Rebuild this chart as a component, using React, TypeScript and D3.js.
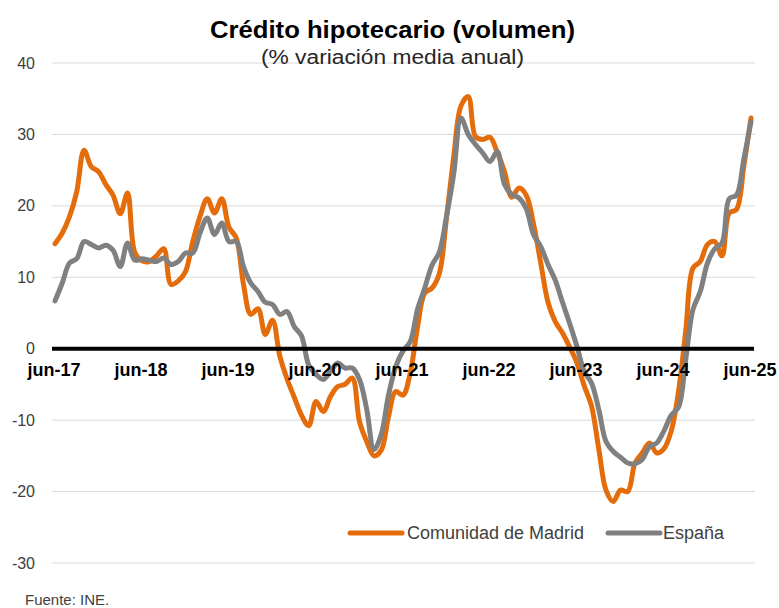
import React, { useRef, useEffect } from 'react';
import * as d3 from 'd3';

// monthly series, jun-17 .. jun-25 (97 points)
const madrid = [
  14.7, 16.2, 18.5, 22.0, 27.8, 25.5, 24.8, 23.0, 21.5, 18.9, 21.8, 13.5,
  12.3, 12.2, 13.0, 14.0, 9.0, 9.5, 10.8, 15.0, 18.5, 21.0, 19.0, 21.0,
  17.0, 15.5, 9.0, 4.8, 5.6, 2.0, 4.0, -1.0, -4.2, -6.8, -9.3, -10.8,
  -7.4, -8.8, -6.7, -5.3, -5.0, -4.1, -10.2, -13.0, -15.0, -14.2, -9.5, -6.0,
  -6.5, -3.4, 3.0, 7.8, 8.5, 10.5, 18.3, 26.9, 34.0, 35.3, 29.7, 29.3,
  29.6, 27.5, 24.8, 21.2, 22.5, 21.5, 17.5, 12.0, 6.5, 3.8, 2.2, 0.2,
  -2.0, -5.2, -8.0, -14.0, -19.8, -21.4, -19.8, -20.0, -16.0, -14.6, -13.2, -14.6,
  -14.0, -11.5, -6.0, 2.5, 11.3, 12.2, 14.6, 15.0, 13.0, 19.0, 19.5, 25.5,
  32.3,
];

const espana = [
  6.7, 9.2, 12.0, 12.6, 15.0, 14.6, 14.1, 14.5, 13.8, 11.5, 14.8, 12.4,
  12.6, 12.4, 12.2, 12.7, 11.8, 12.2, 13.4, 13.4, 16.2, 18.3, 16.0, 17.6,
  15.0, 15.0, 11.5, 9.2, 8.0, 6.5, 6.2, 4.8, 5.2, 3.1, 1.8, -2.3,
  -3.6, -4.3, -3.2, -2.0, -2.7, -2.7, -4.3, -8.5, -14.1, -12.0, -6.5, -2.5,
  -0.3, 1.0, 5.5, 8.5, 11.7, 13.5, 18.5, 24.5, 32.3, 30.0, 28.6, 27.4,
  26.2, 27.6, 23.0, 21.6, 21.1, 19.6, 16.0, 14.3, 11.8, 9.6, 6.5, 3.5,
  0.3, -3.2, -4.8, -8.5, -13.0, -14.4, -15.2, -16.0, -16.1, -15.5, -13.7, -13.2,
  -11.5, -9.3, -8.2, -1.5, 5.5, 8.0, 12.0, 14.0, 14.8, 21.0, 21.5, 26.5,
  31.8,
];

const xLabels = ['jun-17', 'jun-18', 'jun-19', 'jun-20', 'jun-21', 'jun-22', 'jun-23', 'jun-24', 'jun-25'];
const yTicks = [-30, -20, -10, 0, 10, 20, 30, 40];
const seriesNames = ['Comunidad de Madrid', 'España'];

const W = 779;
const H = 608;
const ORANGE = '#E46C0A';
const GREY = '#808080';

const App = () => {
  const svgRef = useRef(null);

  useEffect(() => {
    if (!svgRef.current) return;
    const svg = d3.select(svgRef.current);
    svg.selectAll('*').remove();

    const xScale = d3.scaleLinear().domain([0, madrid.length - 1]).range([55, 751]);
    const yScale = d3.scaleLinear().domain([-30, 40]).range([563, 63]);
    const gridLeft = 52;
    const gridRight = 755;

    // gridlines
    svg.append('g')
      .selectAll('line')
      .data(yTicks.filter(t => t !== 0))
      .enter()
      .append('line')
      .attr('x1', gridLeft)
      .attr('x2', gridRight)
      .attr('y1', d => yScale(d))
      .attr('y2', d => yScale(d))
      .attr('stroke', '#D9D9D9')
      .attr('stroke-width', 1);

    // y tick labels
    svg.append('g')
      .selectAll('text')
      .data(yTicks)
      .enter()
      .append('text')
      .attr('x', 35)
      .attr('y', d => yScale(d) + 5.5)
      .attr('text-anchor', 'end')
      .attr('font-family', 'Liberation Sans, Arial, sans-serif')
      .attr('font-size', 16)
      .attr('fill', '#404040')
      .text(d => d);

    // title
    svg.append('text')
      .attr('x', 392.5)
      .attr('y', 38)
      .attr('text-anchor', 'middle')
      .attr('font-family', 'Liberation Sans, Arial, sans-serif')
      .attr('font-size', 23)
      .attr('font-weight', 'bold')
      .attr('fill', '#000')
      .attr('textLength', 365)
      .attr('lengthAdjust', 'spacingAndGlyphs')
      .text('Crédito hipotecario (volumen)');

    svg.append('text')
      .attr('x', 392.5)
      .attr('y', 64)
      .attr('text-anchor', 'middle')
      .attr('font-family', 'Liberation Sans, Arial, sans-serif')
      .attr('font-size', 20)
      .attr('fill', '#262626')
      .attr('textLength', 263)
      .attr('lengthAdjust', 'spacingAndGlyphs')
      .text('(% variación media anual)');

    const line = d3.line<number>()
      .x((d, i) => xScale(i))
      .y(d => yScale(d))
      .curve(d3.curveCatmullRom.alpha(0.5));

    // series
    [[madrid, ORANGE], [espana, GREY]].forEach(([vals, color]) => {
      svg.append('path')
        .datum(vals as number[])
        .attr('fill', 'none')
        .attr('stroke', color as string)
        .attr('stroke-width', 5)
        .attr('stroke-linejoin', 'round')
        .attr('stroke-linecap', 'round')
        .attr('d', line);
    });

    // zero axis
    svg.append('line')
      .attr('x1', gridLeft)
      .attr('x2', 754)
      .attr('y1', yScale(0))
      .attr('y2', yScale(0))
      .attr('stroke', '#000')
      .attr('stroke-width', 4);

    // x labels
    svg.append('g')
      .selectAll('text')
      .data(xLabels)
      .enter()
      .append('text')
      .attr('x', (d, k) => xScale(k * 12) - 1)
      .attr('y', 376)
      .attr('text-anchor', 'middle')
      .attr('font-family', 'Liberation Sans, Arial, sans-serif')
      .attr('font-size', 18)
      .attr('font-weight', 'bold')
      .attr('fill', '#000')
      .text(d => d);

    // legend
    const legend = [
      { name: seriesNames[0], color: ORANGE, x: 350, tx: 407 },
      { name: seriesNames[1], color: GREY, x: 608, tx: 663 },
    ];
    const lg = svg.append('g');
    legend.forEach(l => {
      lg.append('line')
        .attr('x1', l.x)
        .attr('x2', l.x + 52)
        .attr('y1', 533)
        .attr('y2', 533)
        .attr('stroke', l.color)
        .attr('stroke-width', 5)
        .attr('stroke-linecap', 'round');
      lg.append('text')
        .attr('x', l.tx)
        .attr('y', 539)
        .attr('font-family', 'Liberation Sans, Arial, sans-serif')
        .attr('font-size', 18)
        .attr('fill', '#404040')
        .text(l.name);
    });

    // source
    svg.append('text')
      .attr('x', 25)
      .attr('y', 605)
      .attr('font-family', 'Liberation Sans, Arial, sans-serif')
      .attr('font-size', 15)
      .attr('fill', '#404040')
      .text('Fuente: INE.');
  }, []);

  return (
    <svg
      ref={svgRef}
      width={W}
      height={H}
      style={{ position: 'absolute', left: 0, top: 0, background: '#fff' }}
    />
  );
};

export default App;
